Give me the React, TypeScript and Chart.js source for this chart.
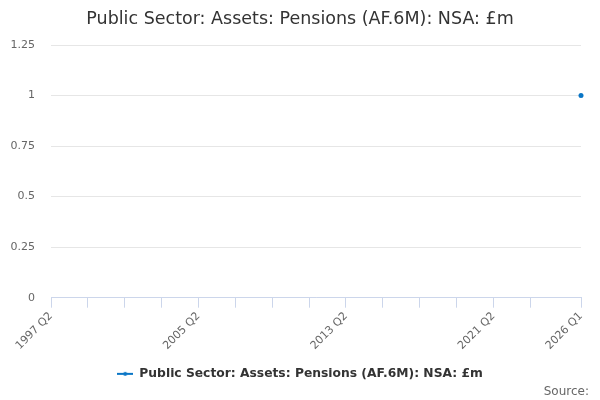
import React, { useEffect, useRef } from 'react';
import Chart from 'chart.js/auto';

const chartTitle = 'Public Sector: Assets: Pensions (AF.6M): NSA: £m';
const seriesName = 'Public Sector: Assets: Pensions (AF.6M): NSA: £m';

// quarterly categories, 1997 Q2 .. 2026 Q1
const quarters: string[] = [];
for (let y = 1997; y <= 2026; y++) {
	for (let q = 1; q <= 4; q++) {
		if (y === 1997 && q < 2) continue;
		if (y === 2026 && q > 1) break;
		quarters.push(`${y} Q${q}`);
	}
}

// only one observation in the series
const observedQuarters = ['2026 Q1'];
const observedValues = [1];

const labelledQuarters = ['1997 Q2', '2005 Q2', '2013 Q2', '2021 Q2', '2026 Q1'];
const yMin = 0;
const yMax = 1.25;
const yStep = 0.25;

const FONT = "'DejaVu Sans', Verdana, Arial, sans-serif";
const BLUE = '#0a76c6';

const App: React.FC = () => {
	const canvasRef = useRef<HTMLCanvasElement | null>(null);
	const chartRef = useRef<Chart | null>(null);

	useEffect(() => {
		document.body.style.margin = '0';
		const canvas = canvasRef.current;
		if (!canvas) return;
		const ctx = canvas.getContext('2d');
		if (!ctx) return;

		// legend symbol: short line with a dot
		const symbol = document.createElement('canvas');
		symbol.width = 16;
		symbol.height = 6;
		const sctx = symbol.getContext('2d');
		if (sctx) {
			sctx.strokeStyle = BLUE;
			sctx.lineWidth = 2;
			sctx.beginPath();
			sctx.moveTo(0, 3);
			sctx.lineTo(16, 3);
			sctx.stroke();
			sctx.fillStyle = BLUE;
			sctx.beginPath();
			sctx.arc(8, 3, 2, 0, Math.PI * 2);
			sctx.fill();
		}

		const lastIndex = quarters.length - 1;

		const sourcePlugin = {
			id: 'sourceNote',
			afterDraw(chart: Chart) {
				const c = chart.ctx;
				c.save();
				c.font = `12px ${FONT}`;
				c.fillStyle = '#666666';
				c.textAlign = 'right';
				c.textBaseline = 'middle';
				c.fillText('Source:', chart.width - 11, 392);
				c.restore();
			},
		};

		if (chartRef.current) {
			chartRef.current.destroy();
		}

		chartRef.current = new Chart(ctx, {
			type: 'line',
			data: {
				labels: quarters,
				datasets: [
					{
						label: seriesName,
						data: observedQuarters.map((q, i) => ({ x: q, y: observedValues[i] })),
						borderColor: BLUE,
						backgroundColor: BLUE,
						borderWidth: 2,
						pointRadius: 2.5,
						pointHoverRadius: 3,
						pointBorderWidth: 0,
						spanGaps: false,
					},
				],
			},
			options: {
				responsive: false,
				animation: false,
				layout: { padding: { left: 0, right: 0, top: 0, bottom: 10 } },
				plugins: {
					title: {
						display: true,
						text: chartTitle,
						color: '#333333',
						font: { family: FONT, size: 17.5, weight: 'normal' },
						padding: { top: 9, bottom: 15 },
					},
					legend: {
						position: 'bottom',
						labels: {
							usePointStyle: true,
							pointStyle: symbol,
							pointStyleWidth: 16,
							color: '#333333',
							font: { family: FONT, size: 12.3, weight: 'bold' },
							padding: 10,
						},
					},
					tooltip: { enabled: false },
				},
				scales: {
					x: {
						type: 'category',
						offset: false,
						border: { color: '#ccd6eb', width: 1 },
						grid: {
							drawOnChartArea: false,
							drawTicks: true,
							tickLength: 10,
							color: '#ccd6eb',
						},
						ticks: {
							autoSkip: false,
							minRotation: 45,
							maxRotation: 45,
							padding: 2,
							color: '#666666',
							font: { family: FONT, size: 11 },
							callback: (value: any) => {
								const label = quarters[value as number];
								return labelledQuarters.includes(label) ? label : '';
							},
						},
						afterBuildTicks: (scale: any) => {
							scale.ticks = scale.ticks.filter(
								(t: any) => (t.value % 8 === 0 && t.value <= lastIndex - 8) || t.value === lastIndex
							);
						},
						afterFit: (scale: any) => {
							scale.height = 60;
							scale.paddingRight = 19;
						},
					},
					y: {
						min: yMin,
						max: yMax,
						border: { display: false },
						grid: { color: '#e6e6e6', drawTicks: false },
						ticks: {
							stepSize: yStep,
							padding: 16,
							color: '#666666',
							font: { family: FONT, size: 11 },
							callback: (value: any) => String(value),
						},
						afterFit: (scale: any) => {
							scale.width = 51;
						},
					},
				},
			},
			plugins: [sourcePlugin],
		});

		return () => {
			if (chartRef.current) {
				chartRef.current.destroy();
				chartRef.current = null;
			}
		};
	}, []);

	return (
		<div style={{ width: 600, height: 400 }}>
			<canvas ref={canvasRef} width={600} height={400} />
		</div>
	);
};

export default App;
